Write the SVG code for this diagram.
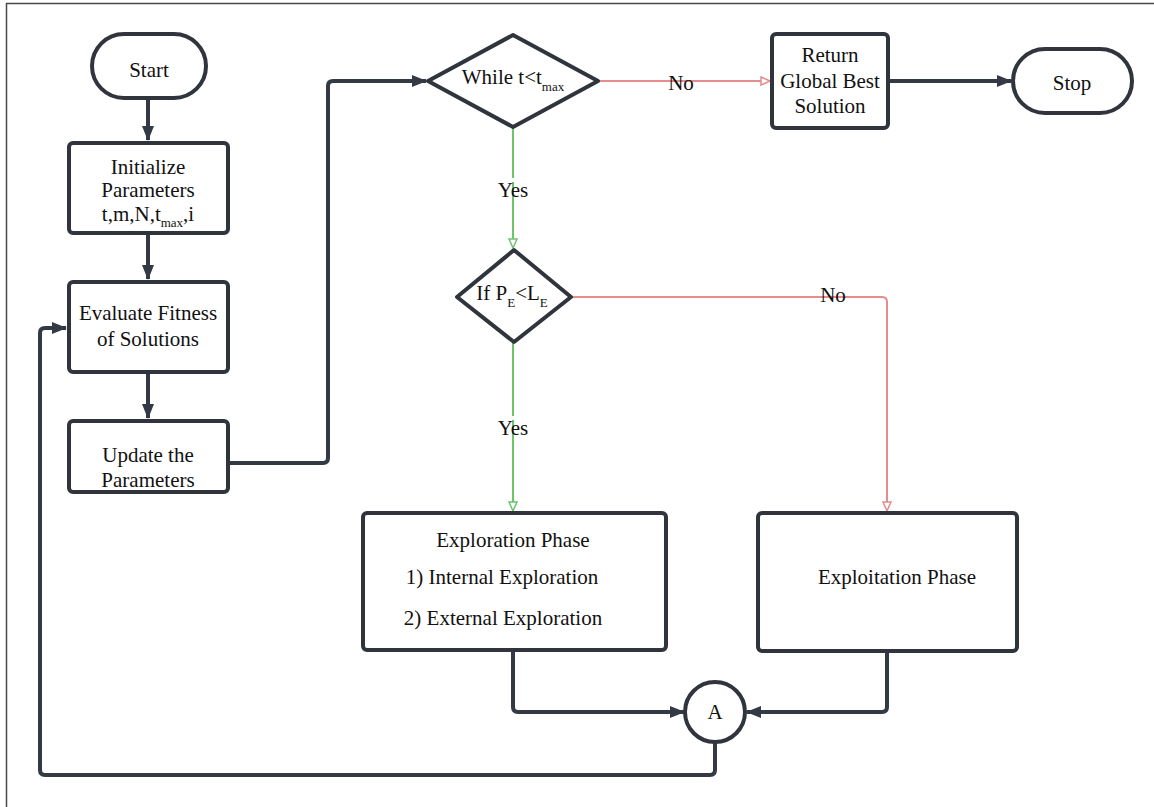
<svg xmlns="http://www.w3.org/2000/svg" width="1154" height="807" viewBox="0 0 1154 807">
<style>
.box{fill:#fff;stroke:#2f343d;stroke-width:4;stroke-linejoin:round}
.t{font-family:"Liberation Serif","Times New Roman",serif;font-size:21px;fill:#111;text-anchor:middle}
.sub{font-size:13px}
.dk{fill:none;stroke:#343a45;stroke-width:4;stroke-linejoin:round}
.rd{fill:none;stroke:#e58c8c;stroke-width:2}
.gr{fill:none;stroke:#6cc46c;stroke-width:2}
</style>
<defs>
<marker id="ad" markerWidth="16" markerHeight="14" refX="14" refY="7" orient="auto" markerUnits="userSpaceOnUse">
<path d="M0,1 L15,7 L0,13 Z" fill="#343a45"/>
</marker>
<marker id="ar" markerWidth="12" markerHeight="12" refX="10" refY="5" orient="auto" markerUnits="userSpaceOnUse">
<path d="M1,1 L10,5 L1,9 Z" fill="#fff" stroke="#e58c8c" stroke-width="1.5"/>
</marker>
<marker id="ag" markerWidth="12" markerHeight="12" refX="10" refY="5" orient="auto" markerUnits="userSpaceOnUse">
<path d="M1,1 L10,5 L1,9 Z" fill="#fff" stroke="#6cc46c" stroke-width="1.5"/>
</marker>
</defs>
<rect width="1154" height="807" fill="#fff"/>
<path d="M6.5,807 V3.5 H1154" fill="none" stroke="#4a4a4a" stroke-width="1.5"/>

<g id="connectors">
<path class="dk" d="M148,98 V140" marker-end="url(#ad)"/>
<path class="dk" d="M148,233 V279" marker-end="url(#ad)"/>
<path class="dk" d="M148,372 V418" marker-end="url(#ad)"/>
<path class="dk" d="M228,463 H323 Q328,463 328,458 V86 Q328,81 333,81 H426" marker-end="url(#ad)"/>
<path class="rd" d="M598,81 H770" marker-end="url(#ar)"/>
<path class="dk" d="M888,81 H1011" marker-end="url(#ad)"/>
<path class="gr" d="M513,127 V248" marker-end="url(#ag)"/>
<path class="rd" d="M571,297 H882 Q887,297 887,302 V511" marker-end="url(#ar)"/>
<path class="gr" d="M513,342 V511" marker-end="url(#ag)"/>
<path class="dk" d="M513,650 V707 Q513,712 518,712 H684" marker-end="url(#ad)"/>
<path class="dk" d="M887,651 V707 Q887,712 882,712 H747" marker-end="url(#ad)"/>
<path class="dk" d="M715,742 V770 Q715,775 710,775 H45 Q40,775 40,770 V333 Q40,328 45,328 H66" marker-end="url(#ad)"/>
<text class="t" x="681" y="90">No</text>
<rect x="499" y="178" width="28" height="4" fill="#fff"/>
<text class="t" x="513" y="197">Yes</text>
<text class="t" x="833" y="302">No</text>
<rect x="499" y="416" width="28" height="4" fill="#fff"/>
<text class="t" x="513" y="435">Yes</text>
</g>

<g id="start">
<rect class="box" x="92" y="34" width="114" height="64" rx="32"/>
<text class="t" x="149" y="77">Start</text>
</g>
<g id="init">
<rect class="box" x="69" y="143" width="159" height="90" rx="4"/>
<text class="t" x="148" y="174">Initialize</text>
<text class="t" x="148" y="197">Parameters</text>
<text class="t" x="148" y="221">t,m,N,t<tspan class="sub" dy="6">max</tspan><tspan dy="-6">,i</tspan></text>
</g>
<g id="evaluate">
<rect class="box" x="69" y="282" width="159" height="90" rx="4"/>
<text class="t" x="148" y="320">Evaluate Fitness</text>
<text class="t" x="148" y="346">of Solutions</text>
</g>
<g id="update">
<rect class="box" x="69" y="421" width="159" height="71" rx="4"/>
<text class="t" x="148" y="462">Update the</text>
<text class="t" x="148" y="487">Parameters</text>
</g>
<g id="while">
<polygon class="box" points="513,35 598,81 513,127 428,81"/>
<text class="t" x="513" y="84">While t&lt;t<tspan class="sub" dy="7">max</tspan></text>
</g>
<g id="return">
<rect class="box" x="772" y="34" width="116" height="94" rx="4"/>
<text class="t" x="830" y="62">Return</text>
<text class="t" x="830" y="88">Global Best</text>
<text class="t" x="830" y="113">Solution</text>
</g>
<g id="stop">
<rect class="box" x="1013" y="49" width="119" height="64" rx="32"/>
<text class="t" x="1072" y="90">Stop</text>
</g>
<g id="if">
<polygon class="box" points="514,250 571,297 514,342 457,297"/>
<text class="t" x="512" y="300">If P<tspan class="sub" dy="7">E</tspan><tspan dy="-7">&lt;L</tspan><tspan class="sub" dy="7">E</tspan></text>
</g>
<g id="exploration">
<rect class="box" x="363" y="513" width="303" height="137" rx="4"/>
<text class="t" x="513" y="547">Exploration Phase</text>
<text class="t" x="502" y="584">1) Internal Exploration</text>
<text class="t" x="503" y="625">2) External Exploration</text>
</g>
<g id="exploitation">
<rect class="box" x="758" y="513" width="259" height="138" rx="4"/>
<text class="t" x="897" y="584">Exploitation Phase</text>
</g>
<g id="a">
<circle class="box" cx="715" cy="712" r="30"/>
<text class="t" x="715" y="719">A</text>
</g>
</svg>
